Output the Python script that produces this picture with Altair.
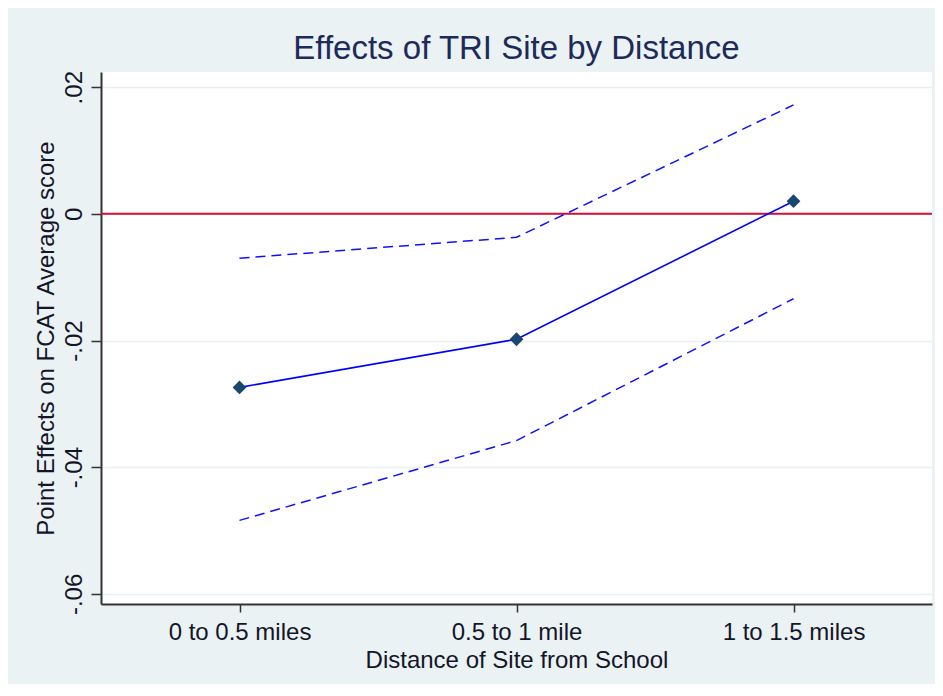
import altair as alt
import pandas as pd

categories = ["0 to 0.5 miles", "0.5 to 1 mile", "1 to 1.5 miles"]
positions = [1, 2, 3]
point_est = [-0.0274, -0.0198, 0.0020]
upper_ci = [-0.0070, -0.0037, 0.0172]
lower_ci = [-0.0484, -0.0358, -0.0134]

df_pt = pd.DataFrame({"x": positions, "y": point_est})
df_ci = pd.DataFrame({
    "x": positions * 2,
    "y": upper_ci + lower_ci,
    "band": ["upper"] * 3 + ["lower"] * 3,
})

label_expr = " : ".join(
    [f"datum.value == {p} ? '{c}'" for p, c in zip(positions, categories)]
) + " : ''"

FONT = "Liberation Sans"
LABEL_COLOR = "#15152a"

xscale = alt.Scale(domain=[0.5, 3.5], nice=False, zero=False)
yscale = alt.Scale(domain=[-0.0616, 0.0224], nice=False, zero=False)

x_enc = alt.X(
    "x:Q", scale=xscale,
    axis=alt.Axis(
        title="Distance of Site from School", values=positions, labelExpr=label_expr,
        grid=False, domainColor="#333333", domainWidth=2, tickColor="#333333",
        tickWidth=1.5, tickSize=8, labelFont=FONT, labelFontSize=24,
        labelColor=LABEL_COLOR, labelBaseline="alphabetic", labelPadding=27,
        labelAlign="center",
        titleFont=FONT, titleFontSize=24, titleFontWeight="normal",
        titleColor=LABEL_COLOR, titleBaseline="alphabetic", titleY=63,
    ),
)
y_enc = alt.Y(
    "y:Q", scale=yscale,
    axis=alt.Axis(
        title="Point Effects on FCAT Average score",
        values=[-0.06, -0.04, -0.02, 0, 0.02],
        labelExpr="datum.value == 0 ? '0' : (datum.value < 0 ? '-' : '') + '.0' + toString(round(abs(datum.value) * 100))",
        grid=True, gridColor="#e8f0f2", gridWidth=1.5,
        domainColor="#333333", domainWidth=2, tickColor="#333333",
        tickWidth=1.5, tickSize=10, labelFont=FONT, labelFontSize=24,
        labelColor=LABEL_COLOR, labelAngle=270, labelAlign="center",
        labelBaseline="alphabetic", labelPadding=10,
        titleFont=FONT, titleFontSize=24, titleFontWeight="normal",
        titleColor=LABEL_COLOR, titleAngle=270, titleAlign="center",
        titleBaseline="alphabetic", titleX=-48,
    ),
)

zero_rule = alt.Chart(pd.DataFrame({"z": [0]})).mark_rule(
    color="#d0103a", strokeWidth=2
).encode(y=alt.Y("z:Q", scale=yscale))

ci = alt.Chart(df_ci).mark_line(
    color="#1010ff", strokeWidth=1.5, strokeDash=[10, 6]
).encode(x=x_enc, y=y_enc, detail="band:N")

pt_line = alt.Chart(df_pt).mark_line(color="#0000ff", strokeWidth=1.6).encode(
    x=x_enc, y=y_enc
)
pt_mark = alt.Chart(df_pt).mark_point(
    shape="diamond", filled=True, color="#1a476f", size=190, opacity=1
).encode(x=x_enc, y=y_enc)

chart = alt.layer(zero_rule, ci, pt_line, pt_mark).properties(
    width=831,
    height=532,
    autosize=alt.AutoSizeParams(type="none"),
    padding={"left": 93, "top": 64, "right": 3, "bottom": 80},
    background="#eaf2f3",
    title=alt.Title(
        "Effects of TRI Site by Distance", font=FONT, fontSize=33,
        fontWeight="normal", color="#1e2a5a", offset=5,
    ),
).configure_view(fill="white", stroke=None)

chart.save("out.html", embed_options={"renderer": "svg", "actions": False})
